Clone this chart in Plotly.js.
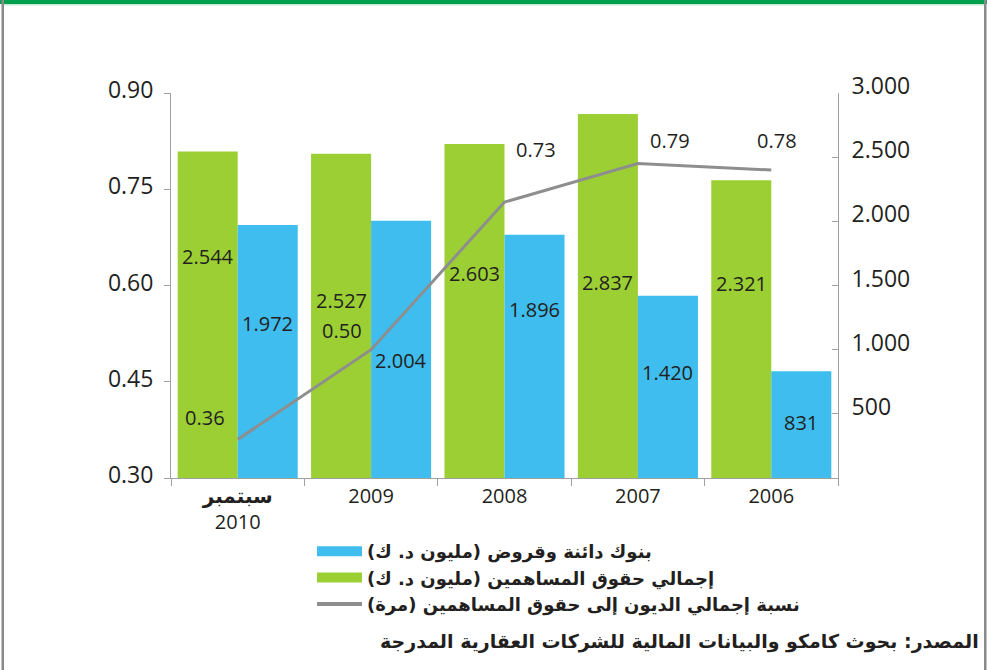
<!DOCTYPE html>
<html><head><meta charset="utf-8">
<script src="https://cdn.plot.ly/plotly-3.0.1.min.js"></script>
<style>html,body{margin:0;padding:0;background:#fff;}#chart{width:987px;height:670px;}</style>
</head><body><div id="chart"></div>
<script>
// ---- data ----
const categories = ['سبتمبر 2010', '2009', '2008', '2007', '2006'];
const categoryLabels = ['<b>سبتمبر</b><br>2010', '2009', '2008', '2007', '2006'];
const equity = [2544, 2527, 2603, 2837, 2321];      // إجمالي حقوق المساهمين
const loans = [1972, 2004, 1896, 1420, 831];        // بنوك دائنة وقروض
const ratio = [0.36, 0.50, 0.73, 0.79, 0.78];       // نسبة إجمالي الديون إلى حقوق المساهمين
const rightTickVals = [500, 1000, 1500, 2000, 2500, 3000];
const leftTickVals = [0.30, 0.45, 0.60, 0.75, 0.90];
const seriesNames = [
  'بنوك دائنة وقروض (مليون د. ك)',
  'إجمالي حقوق المساهمين (مليون د. ك)',
  'نسبة إجمالي الديون إلى حقوق المساهمين (مرة)'
];
const sourceText = 'المصدر: بحوث كامكو والبيانات المالية للشركات العقارية المدرجة';

// ---- styling / placement ----
const GREEN = '#9bcf34', BLUE = '#3ebdee', GRAY = '#8e8e8e', AXIS = '#a0a0a0', INK = '#231f20';
const NUMFONT = 'Open Sans, DejaVu Sans, sans-serif';
const ARFONT = 'DejaVu Sans, sans-serif';
const RLM = '\u200F';
const rtl = s => RLM + s + RLM;
const thou = v => String(v).replace(/\B(?=(\d{3})+(?!\d))/g, '.');

const W = 987, H = 670, L = 171, R = 149, T = 93, B = 192;
const pw = W - L - R, ph = H - T - B;
const px = x => (x - L) / pw;
const py = y => (H - B - y) / ph;

// label offsets (pixels)
const greenYShift = [-105, -147, -130, -169, -103];
const blueYShift = [-99, -140, -75, -77, -51];
const lineXShift = [-33, -29, 31, 32, 6];
const lineYShift = [22, 19, 53, 23, 30];

const traces = [
  {type: 'bar', x: categories, y: equity, yaxis: 'y', marker: {color: GREEN}, showlegend: false, hoverinfo: 'skip'},
  {type: 'bar', x: categories, y: loans, yaxis: 'y', marker: {color: BLUE}, showlegend: false, hoverinfo: 'skip'},
  {type: 'scatter', mode: 'lines', x: categories, y: ratio, yaxis: 'y2', line: {color: GRAY, width: 3}, showlegend: false, hoverinfo: 'skip'},
  // legend entries
  {type: 'scatter', mode: 'lines', x: [categories[0]], y: [null], yaxis: 'y', name: rtl(seriesNames[0]), line: {color: BLUE, width: 11}, legendrank: 1, hoverinfo: 'skip'},
  {type: 'scatter', mode: 'lines', x: [categories[0]], y: [null], yaxis: 'y', name: rtl(seriesNames[1]), line: {color: GREEN, width: 11}, legendrank: 2, hoverinfo: 'skip'},
  {type: 'scatter', mode: 'lines', x: [categories[0]], y: [null], yaxis: 'y', name: rtl(seriesNames[2]), line: {color: GRAY, width: 4}, legendrank: 3, hoverinfo: 'skip'}
];

const annotations = [];
categories.forEach((c, i) => {
  // category axis: annotation x given as category serial number
  annotations.push({x: i, y: equity[i], xref: 'x', yref: 'y', xshift: -30, yshift: greenYShift[i],
    text: thou(equity[i]), showarrow: false, font: {family: NUMFONT, size: 20, color: INK}});
  annotations.push({x: i, y: loans[i], xref: 'x', yref: 'y', xshift: 30, yshift: blueYShift[i],
    text: thou(loans[i]), showarrow: false, font: {family: NUMFONT, size: 20, color: INK}});
  annotations.push({x: i, y: ratio[i], xref: 'x', yref: 'y2', xshift: lineXShift[i], yshift: lineYShift[i],
    text: ratio[i].toFixed(2), showarrow: false, font: {family: NUMFONT, size: 20, color: INK}});
});
annotations.push({x: px(981), y: py(641), xref: 'paper', yref: 'paper', xanchor: 'right', yanchor: 'middle',
  text: rtl(sourceText), showarrow: false, font: {family: ARFONT, size: 19, color: INK, weight: 'bold'}});

const shapes = [
  {type: 'rect', xref: 'paper', yref: 'paper', x0: px(0), x1: px(987), y0: py(0), y1: py(4), fillcolor: '#00a04e', line: {width: 0}},
  {type: 'rect', xref: 'paper', yref: 'paper', x0: px(4), x1: px(984), y0: py(4), y1: py(5.5), fillcolor: '#c6ead4', line: {width: 0}},
  {type: 'rect', xref: 'paper', yref: 'paper', x0: px(1.5), x1: px(4), y0: py(0), y1: py(670), fillcolor: '#8a8a8a', line: {width: 0}},
  {type: 'rect', xref: 'paper', yref: 'paper', x0: px(984), x1: px(986.5), y0: py(0), y1: py(670), fillcolor: '#8a8a8a', line: {width: 0}}
];

const layout = {
  width: W, height: H,
  margin: {l: L, r: R, t: T, b: B, pad: 0},
  paper_bgcolor: '#ffffff', plot_bgcolor: '#ffffff',
  font: {family: NUMFONT, color: INK},
  barmode: 'group', bargap: 0.1, bargroupgap: 0,
  xaxis: {
    type: 'category', categoryorder: 'array', categoryarray: categories,
    range: [-0.5, categories.length - 0.5], autorange: false,
    tickvals: categories, ticktext: categoryLabels,
    showline: true, linecolor: AXIS, linewidth: 1,
    ticks: 'outside', tickson: 'boundaries', ticklen: 7, tickcolor: AXIS,
    tickfont: {family: NUMFONT, size: 20, color: INK},
    showgrid: false, zeroline: false, fixedrange: true
  },
  yaxis: {
    side: 'right', range: [0, 3000], autorange: false,
    tickvals: rightTickVals, ticktext: rightTickVals.map(thou),
    ticks: 'inside', ticklen: 6, tickcolor: AXIS,
    showline: true, linecolor: AXIS, linewidth: 1,
    showgrid: false, zeroline: false, fixedrange: true,
    tickfont: {family: NUMFONT, size: 23, color: INK},
    ticklabelshift: -7,
    ticklabelstandoff: 8
  },
  yaxis2: {
    overlaying: 'y', side: 'left', range: [0.30, 0.90], autorange: false,
    tickvals: leftTickVals, tickformat: '.2f',
    ticks: 'outside', ticklen: 6, tickcolor: AXIS,
    showline: true, linecolor: AXIS, linewidth: 1,
    showgrid: false, zeroline: false, fixedrange: true,
    tickfont: {family: NUMFONT, size: 23, color: INK},
    ticklabelshift: -3,
    ticklabelstandoff: 6
  },
  showlegend: true,
  legend: {
    orientation: 'v', x: px(312), y: py(533), xanchor: 'left', yanchor: 'top',
    bgcolor: 'rgba(0,0,0,0)', borderwidth: 0, tracegroupgap: 0, itemwidth: 45,
    font: {family: ARFONT, size: 18, color: INK, weight: 'bold'}
  },
  annotations: annotations,
  shapes: shapes
};

Plotly.newPlot('chart', traces, layout, {staticPlot: true, displayModeBar: false});
</script>
</body></html>
